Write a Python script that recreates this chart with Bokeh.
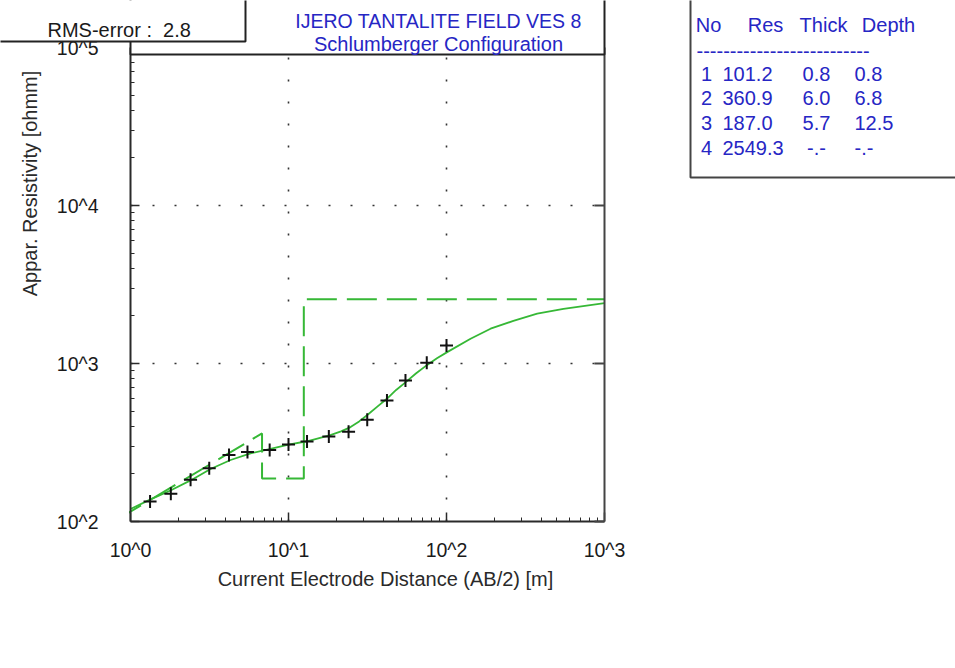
import math
from bokeh.plotting import figure
from bokeh.models import (LogAxis, FixedTicker, Label, BoxAnnotation, Range1d)
from bokeh.embed import file_html
from bokeh.resources import INLINE

# ---------------- data ----------------
ab2_obs = [1.33, 1.8, 2.4, 3.15, 4.2, 5.5, 7.6, 10.0, 13.1, 18.0, 24.0, 31.5, 42.0, 55.0, 75.0, 100.0]
rho_obs = [134, 150, 184, 217, 264, 275, 284, 307, 321, 345, 370, 440, 583, 780, 1010, 1300]

ab2_fit = [1.0, 1.34, 1.79, 2.4, 3.21, 4.3, 5.75, 7.69, 10.0, 13.1, 18.4, 21.5, 24.7, 28.0,
           31.4, 36.5, 42.1, 48.0, 55.0, 64.0, 75.5, 87.0, 101.0, 142.0, 190.0, 265.0,
           375.0, 550.0, 1000.0]
rho_fit = [120, 138, 157, 182, 215, 245, 270, 288, 307, 322, 352, 372, 396, 430,
           470, 533, 600, 680, 760, 865, 980, 1080, 1180, 1433, 1660, 1860,
           2066, 2220, 2410]

layer_no = [1, 2, 3, 4]
layer_res = [101.2, 360.9, 187.0, 2549.3]
layer_thick = [0.8, 6.0, 5.7, None]
layer_depth = [0.8, 6.8, 12.5, None]

x_ticks = [1.0, 10.0, 100.0, 1000.0]
x_tick_labels = ["10^0", "10^1", "10^2", "10^3"]
y_ticks = [100.0, 1000.0, 10000.0, 100000.0]
y_tick_labels = ["10^2", "10^3", "10^4", "10^5"]

title_lines = ["IJERO TANTALITE FIELD VES 8", "Schlumberger Configuration"]
rms_error = 2.8
x_title = "Current Electrode Distance (AB/2) [m]"
y_title = "Appar. Resistivity [ohmm]"
table_headers = ["No", "Res", "Thick", "Depth"]

# ---------------- style / layout ----------------
FONT = "Liberation Sans"
GREEN = "#36b836"
BLUE = "#2626c4"
DARK = "#2a2a2a"
FS = "20px"

W, H = 955, 666          # canvas size (canvas == frame)
PX_DEC = 158.0           # pixels per decade on both axes
X0_PX, Y0_PX = 130, 521  # canvas position of (x_ticks[0], y_ticks[0])

x_range = Range1d(x_ticks[0] * 10 ** (-X0_PX / PX_DEC), x_ticks[0] * 10 ** ((W - X0_PX) / PX_DEC))
y_range = Range1d(y_ticks[0] * 10 ** (-(H - Y0_PX) / PX_DEC), y_ticks[0] * 10 ** (Y0_PX / PX_DEC))

p = figure(width=W, height=H, x_axis_type="log", y_axis_type="log",
           x_range=x_range, y_range=y_range,
           output_backend="svg", toolbar_location=None, title_location=None,
           min_border=0)
p.outline_line_color = None
p.background_fill_color = "white"
p.border_fill_color = "white"
p.xgrid.visible = False
p.ygrid.visible = False


def minor_of(ticks):
    out = []
    for t in ticks[:-1]:
        out += [t * k for k in range(2, 10)]
    return out


p.xaxis.ticker = FixedTicker(ticks=x_ticks, minor_ticks=minor_of(x_ticks))
p.yaxis.ticker = FixedTicker(ticks=y_ticks, minor_ticks=minor_of(y_ticks))
p.xaxis.fixed_location = y_ticks[0]
p.yaxis.fixed_location = x_ticks[0]
p.xaxis.bounds = (x_ticks[0], x_ticks[-1])
p.yaxis.bounds = (y_ticks[0], y_ticks[-1])

for ax, labels, ticks in ((p.xaxis[0], x_tick_labels, x_ticks), (p.yaxis[0], y_tick_labels, y_ticks)):
    ax.major_label_overrides = {t: l for t, l in zip(ticks, labels)}
    ax.major_tick_in = 9
    ax.major_tick_out = 0
    ax.minor_tick_in = 4
    ax.minor_tick_out = 0
    ax.axis_line_width = 2
    ax.axis_line_color = DARK
    ax.major_tick_line_color = DARK
    ax.minor_tick_line_color = DARK
    ax.major_tick_line_width = 1.5
    ax.major_label_text_font = FONT
    ax.major_label_text_font_size = "19.5px"
    ax.major_label_text_color = "#1a1a1a"
p.xaxis.major_label_standoff = 17
p.yaxis.major_label_standoff = 32

right = LogAxis(ticker=FixedTicker(ticks=y_ticks, minor_ticks=[]),
                fixed_location=x_ticks[-1], bounds=(y_ticks[0], y_ticks[-1]),
                major_tick_in=10, major_tick_out=0, minor_tick_in=0, minor_tick_out=0,
                axis_line_width=2, axis_line_color="#444444",
                major_tick_line_color="#444444", major_tick_line_width=2,
                major_label_text_color=None)
p.add_layout(right, "right")

# ---------------- dotted grid at the inner decades ----------------
gx = x_ticks[1:-1]
p.segment(x0=gx, y0=[y_ticks[0]] * len(gx), x1=gx, y1=[y_ticks[-1]] * len(gx),
          line_color="#333333", line_width=1.6, line_dash="2 20")
gy = y_ticks[1:-1]
p.segment(x0=[x_ticks[0]] * len(gy), y0=gy, x1=[x_ticks[-1]] * len(gy), y1=gy,
          line_color="#333333", line_width=1.6, line_dash="2 20")

# ---------------- model (layered) dashed line ----------------
mx = [layer_depth[0], layer_depth[1], layer_depth[1], layer_depth[2], layer_depth[2], x_ticks[-1]]
my = [layer_res[0], layer_res[1], layer_res[2], layer_res[2], layer_res[3], layer_res[3]]
p.line(mx, my, line_color=GREEN, line_width=2, line_dash="30 10")

# ---------------- fitted curve ----------------
p.line(ab2_fit, rho_fit, line_color=GREEN, line_width=1.8)

# ---------------- observed data ----------------
p.scatter(ab2_obs, rho_obs, marker="cross", size=13, line_width=2, line_color="#111111")


# ---------------- annotations in canvas pixel positions ----------------
def box(l, t, r, b, color="#222222", lw=2):
    p.add_layout(BoxAnnotation(left=l, right=r, top=H - t, bottom=H - b,
                               left_units="screen", right_units="screen",
                               top_units="screen", bottom_units="screen",
                               fill_color="white", fill_alpha=1.0,
                               line_color=color, line_alpha=1.0, line_width=lw))


def text(x, y, s, color=DARK, align="left", angle=0.0, size=FS):
    p.add_layout(Label(x=x, y=H - y, x_units="screen", y_units="screen", text=s,
                       text_font=FONT, text_font_size=size, text_color=color,
                       text_align=align, text_baseline="middle", angle=angle))


# mask the part of the model line left of the plot area
box(100, 500, 128.5, 530, color=None, lw=0)

# boxes
box(130, -20, 604, 54)
box(-30, -20, 245, 41)
box(690, -20, 1100, 177, color="#444444")

# title
text(438, 20, title_lines[0], color=BLUE, align="center", size="19.5px")
text(438, 43, title_lines[1], color=BLUE, align="center")

# RMS
text(47, 29, "RMS-error :\u00a0\u00a0%.1f" % rms_error, color="#1a1a1a")

# axis titles
text(385, 578, x_title, color="#2a2a2a", align="center")
text(29, 183, y_title, color="#2a2a2a", align="center", angle=math.pi / 2)

# table
hdr_x = [708, 765, 823, 888]
for hx, h in zip(hdr_x, table_headers):
    text(hx, 24, h, color=BLUE, align="center")
text(696, 50, "-" * 26, color=BLUE)
col_x = [706, 722, 816, 854]
col_align = ["center", "left", "center", "left"]
row_y0, row_dy = 73, 24.7
for i in range(len(layer_no)):
    yy = row_y0 + i * row_dy
    cells = [str(layer_no[i]), "%.1f" % layer_res[i],
             "-.-" if layer_thick[i] is None else "%.1f" % layer_thick[i],
             "-.-" if layer_depth[i] is None else "%.1f" % layer_depth[i]]
    for cx, ca, c in zip(col_x, col_align, cells):
        text(cx, yy, c, color=BLUE, align=ca)

open("out.html", "w").write(file_html(p, INLINE))
